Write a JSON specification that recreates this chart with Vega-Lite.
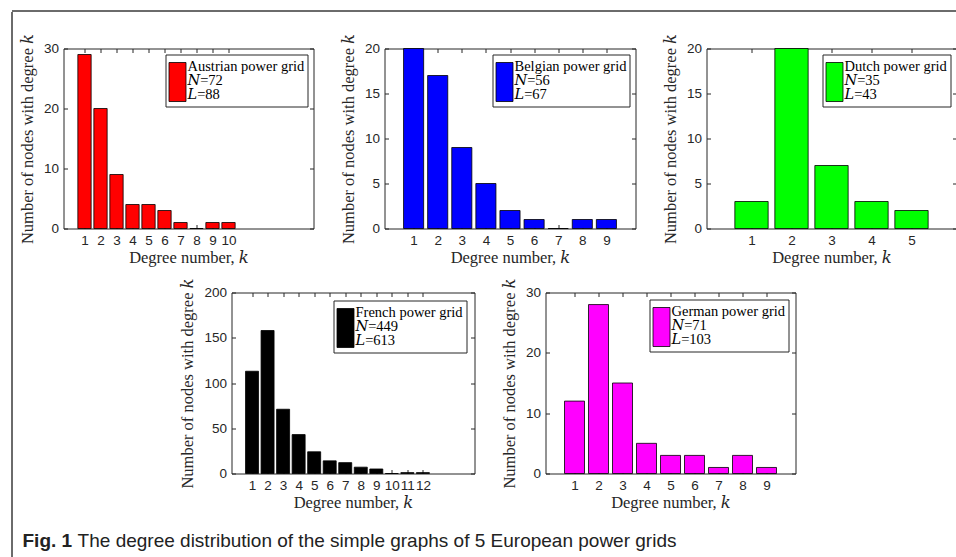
{
  "$schema": "https://vega.github.io/schema/vega-lite/v6.json",
  "background": "white",
  "padding": {"left": 10.5, "top": 9.5, "right": 0, "bottom": 0},
  "bounds": "flush",
  "spacing": 0,
  "resolve": {"scale": {"color": "independent"}, "legend": {"color": "independent"}},
  "datasets": {
    "austria": [
      {"k": 1, "n": 29, "grid": "Austrian power grid"},
      {"k": 2, "n": 20, "grid": "Austrian power grid"},
      {"k": 3, "n": 9, "grid": "Austrian power grid"},
      {"k": 4, "n": 4, "grid": "Austrian power grid"},
      {"k": 5, "n": 4, "grid": "Austrian power grid"},
      {"k": 6, "n": 3, "grid": "Austrian power grid"},
      {"k": 7, "n": 1, "grid": "Austrian power grid"},
      {"k": 8, "n": 0, "grid": "Austrian power grid"},
      {"k": 9, "n": 1, "grid": "Austrian power grid"},
      {"k": 10, "n": 1, "grid": "Austrian power grid"}
    ],
    "belgium": [
      {"k": 1, "n": 20, "grid": "Belgian power grid"},
      {"k": 2, "n": 17, "grid": "Belgian power grid"},
      {"k": 3, "n": 9, "grid": "Belgian power grid"},
      {"k": 4, "n": 5, "grid": "Belgian power grid"},
      {"k": 5, "n": 2, "grid": "Belgian power grid"},
      {"k": 6, "n": 1, "grid": "Belgian power grid"},
      {"k": 7, "n": 0, "grid": "Belgian power grid"},
      {"k": 8, "n": 1, "grid": "Belgian power grid"},
      {"k": 9, "n": 1, "grid": "Belgian power grid"}
    ],
    "dutch": [
      {"k": 1, "n": 3, "grid": "Dutch power grid"},
      {"k": 2, "n": 20, "grid": "Dutch power grid"},
      {"k": 3, "n": 7, "grid": "Dutch power grid"},
      {"k": 4, "n": 3, "grid": "Dutch power grid"},
      {"k": 5, "n": 2, "grid": "Dutch power grid"}
    ],
    "french": [
      {"k": 1, "n": 113, "grid": "French power grid"},
      {"k": 2, "n": 158, "grid": "French power grid"},
      {"k": 3, "n": 71, "grid": "French power grid"},
      {"k": 4, "n": 43, "grid": "French power grid"},
      {"k": 5, "n": 24, "grid": "French power grid"},
      {"k": 6, "n": 14, "grid": "French power grid"},
      {"k": 7, "n": 12, "grid": "French power grid"},
      {"k": 8, "n": 7, "grid": "French power grid"},
      {"k": 9, "n": 5, "grid": "French power grid"},
      {"k": 10, "n": 0, "grid": "French power grid"},
      {"k": 11, "n": 1, "grid": "French power grid"},
      {"k": 12, "n": 1, "grid": "French power grid"}
    ],
    "german": [
      {"k": 1, "n": 12, "grid": "German power grid"},
      {"k": 2, "n": 28, "grid": "German power grid"},
      {"k": 3, "n": 15, "grid": "German power grid"},
      {"k": 4, "n": 5, "grid": "German power grid"},
      {"k": 5, "n": 3, "grid": "German power grid"},
      {"k": 6, "n": 3, "grid": "German power grid"},
      {"k": 7, "n": 1, "grid": "German power grid"},
      {"k": 8, "n": 3, "grid": "German power grid"},
      {"k": 9, "n": 1, "grid": "German power grid"}
    ]
  },
  "vconcat": [
    {"width": 945, "height": 0.01, "data": {"values": []}, "mark": "point", "view": {"stroke": "#3a3a3a", "strokeWidth": 1, "fill": null}},
    {
      "bounds": "flush",
      "spacing": 51,
      "resolve": {"scale": {"color": "independent"}, "legend": {"color": "independent"}},
      "hconcat": [
        {
          "width": 0.01, "height": 546,
          "data": {"values": []}, "mark": "point",
          "view": {"stroke": "#3a3a3a", "strokeWidth": 1, "fill": null},
          "title": {
            "text": "Fig. 1",
            "subtitle": "\u200b\u2003\u2003\u2002\u2009\u2009The degree distribution of the simple graphs of 5 European power grids",
            "orient": "bottom",
            "anchor": "start",
            "offset": -26,
            "dx": 11,
            "font": "Liberation Sans",
            "fontSize": 19,
            "fontWeight": "bold",
            "color": "#222222",
            "subtitleFont": "Liberation Sans",
            "subtitleFontSize": 19,
            "subtitleColor": "#222222",
            "subtitlePadding": -19
          }
        },
        {
          "bounds": "flush",
          "spacing": 36,
          "resolve": {"scale": {"color": "independent"}, "legend": {"color": "independent"}},
          "vconcat": [
            {"width": 1, "height": 1, "data": {"values": []}, "mark": "point", "view": {"stroke": null}},
            {
              "bounds": "flush",
              "spacing": 244,
              "resolve": {"scale": {"color": "independent"}, "legend": {"color": "independent"}},
              "vconcat": [
                {
                  "bounds": "flush",
                  "spacing": 71,
                  "resolve": {"scale": {"color": "independent"}, "legend": {"color": "independent"}},
                  "hconcat": [
                    {
                      "width": 250, "height": 180,
                      "data": {"name": "austria"},
                      "resolve": {"axis": {"x": "independent", "y": "independent"}},
                      "layer": [
                        {
                          "mark": {"type": "bar", "width": 13.3, "stroke": "#000000", "strokeWidth": 0.8},
                          "encoding": {
                            "x": {"field": "k", "type": "quantitative", "scale": {"domain": [0, 15], "nice": false, "zero": false},
                                  "axis": {"values": [1,2,3,4,5,6,7,8,9,10], "title": "Degree number, \ud835\udc58"}},
                            "y": {"field": "n", "type": "quantitative", "scale": {"domain": [0, 30], "nice": false},
                                  "axis": {"values": [0,10,20,30], "title": "Number of nodes with degree \ud835\udc58"}},
                            "color": {"field": "grid", "type": "nominal", "scale": {"range": ["#ff0000"]},
                                      "legend": {"title": null, "orient": "top-right", "offset": 6,
                                                 "labelExpr": "['Austrian power grid', '\ud835\udc41=72', '\ud835\udc3f=88']",
                                                 "encode": {"labels": {"update": {"lineHeight": {"value": 14}}}}}}
                          }
                        },
                        {
                          "mark": {"type": "bar", "opacity": 0},
                          "encoding": {
                            "x": {"field": "k", "type": "quantitative", "scale": {"domain": [0, 15], "nice": false, "zero": false},
                                  "axis": {"orient": "top", "values": [1,2,3,4,5,6,7,8,9,10], "labels": false, "title": null}},
                            "y": {"field": "n", "type": "quantitative", "scale": {"domain": [0, 30], "nice": false},
                                  "axis": {"orient": "right", "values": [0,10,20,30], "labels": false, "title": null}}
                          }
                        }
                      ]
                    },
                    {
                      "width": 251, "height": 180,
                      "data": {"name": "belgium"},
                      "resolve": {"axis": {"x": "independent", "y": "independent"}},
                      "layer": [
                        {
                          "mark": {"type": "bar", "width": 20.1, "stroke": "#000000", "strokeWidth": 0.8},
                          "encoding": {
                            "x": {"field": "k", "type": "quantitative", "scale": {"domain": [0, 10], "nice": false, "zero": false},
                                  "axis": {"values": [1,2,3,4,5,6,7,8,9], "title": "Degree number, \ud835\udc58"}},
                            "y": {"field": "n", "type": "quantitative", "scale": {"domain": [0, 20], "nice": false},
                                  "axis": {"values": [0,5,10,15,20], "title": "Number of nodes with degree \ud835\udc58"}},
                            "color": {"field": "grid", "type": "nominal", "scale": {"range": ["#0000ff"]},
                                      "legend": {"title": null, "orient": "top-right", "offset": 6,
                                                 "labelExpr": "['Belgian power grid', '\ud835\udc41=56', '\ud835\udc3f=67']",
                                                 "encode": {"labels": {"update": {"lineHeight": {"value": 14}}}}}}
                          }
                        },
                        {
                          "mark": {"type": "bar", "opacity": 0},
                          "encoding": {
                            "x": {"field": "k", "type": "quantitative", "scale": {"domain": [0, 10], "nice": false, "zero": false},
                                  "axis": {"orient": "top", "values": [1,2,3,4,5,6,7,8,9], "labels": false, "title": null}},
                            "y": {"field": "n", "type": "quantitative", "scale": {"domain": [0, 20], "nice": false},
                                  "axis": {"orient": "right", "values": [0,5,10,15,20], "labels": false, "title": null}}
                          }
                        }
                      ]
                    },
                    {
                      "width": 250, "height": 180,
                      "data": {"name": "dutch"},
                      "resolve": {"axis": {"x": "independent", "y": "independent"}},
                      "layer": [
                        {
                          "mark": {"type": "bar", "width": 33.3, "stroke": "#000000", "strokeWidth": 0.8},
                          "encoding": {
                            "x": {"field": "k", "type": "quantitative", "scale": {"domain": [0, 6], "nice": false, "zero": false},
                                  "axis": {"values": [1,2,3,4,5], "title": "Degree number, \ud835\udc58"}},
                            "y": {"field": "n", "type": "quantitative", "scale": {"domain": [0, 20], "nice": false},
                                  "axis": {"values": [0,5,10,15,20], "title": "Number of nodes with degree \ud835\udc58"}},
                            "color": {"field": "grid", "type": "nominal", "scale": {"range": ["#00ff00"]},
                                      "legend": {"title": null, "orient": "top-right", "offset": 6,
                                                 "labelExpr": "['Dutch power grid', '\ud835\udc41=35', '\ud835\udc3f=43']",
                                                 "encode": {"labels": {"update": {"lineHeight": {"value": 14}}}}}}
                          }
                        },
                        {
                          "mark": {"type": "bar", "opacity": 0},
                          "encoding": {
                            "x": {"field": "k", "type": "quantitative", "scale": {"domain": [0, 6], "nice": false, "zero": false},
                                  "axis": {"orient": "top", "values": [1,2,3,4,5], "labels": false, "title": null}},
                            "y": {"field": "n", "type": "quantitative", "scale": {"domain": [0, 20], "nice": false},
                                  "axis": {"orient": "right", "values": [0,5,10,15,20], "labels": false, "title": null}}
                          }
                        }
                      ]
                    }
                  ]
                },
                {
                  "bounds": "flush",
                  "spacing": 71,
                  "resolve": {"scale": {"color": "independent"}, "legend": {"color": "independent"}},
                  "hconcat": [
                    {"width": 97, "height": 1, "data": {"values": []}, "mark": "point", "view": {"stroke": null}},
                    {
                      "width": 243, "height": 181,
                      "data": {"name": "french"},
                      "resolve": {"axis": {"x": "independent", "y": "independent"}},
                      "layer": [
                        {
                          "mark": {"type": "bar", "width": 13, "stroke": "#000000", "strokeWidth": 0.8},
                          "encoding": {
                            "x": {"field": "k", "type": "quantitative", "scale": {"domain": [0, 15], "nice": false, "zero": false},
                                  "axis": {"values": [1,2,3,4,5,6,7,8,9,10,11,12], "title": "Degree number, \ud835\udc58"}},
                            "y": {"field": "n", "type": "quantitative", "scale": {"domain": [0, 200], "nice": false},
                                  "axis": {"values": [0,50,100,150,200], "title": "Number of nodes with degree \ud835\udc58"}},
                            "color": {"field": "grid", "type": "nominal", "scale": {"range": ["#000000"]},
                                      "legend": {"title": null, "orient": "top-right", "offset": 8,
                                                 "labelExpr": "['French power grid', '\ud835\udc41=449', '\ud835\udc3f=613']",
                                                 "encode": {"labels": {"update": {"lineHeight": {"value": 14}}}}}}
                          }
                        },
                        {
                          "mark": {"type": "bar", "opacity": 0},
                          "encoding": {
                            "x": {"field": "k", "type": "quantitative", "scale": {"domain": [0, 15], "nice": false, "zero": false},
                                  "axis": {"orient": "top", "values": [1,2,3,4,5,6,7,8,9,10,11,12], "labels": false, "title": null}},
                            "y": {"field": "n", "type": "quantitative", "scale": {"domain": [0, 200], "nice": false},
                                  "axis": {"orient": "right", "values": [0,50,100,150,200], "labels": false, "title": null}}
                          }
                        }
                      ]
                    },
                    {
                      "width": 250, "height": 181,
                      "data": {"name": "german"},
                      "resolve": {"axis": {"x": "independent", "y": "independent"}},
                      "layer": [
                        {
                          "mark": {"type": "bar", "width": 20, "stroke": "#000000", "strokeWidth": 0.8},
                          "encoding": {
                            "x": {"field": "k", "type": "quantitative", "scale": {"domain": [0, 10], "nice": false, "zero": false},
                                  "axis": {"values": [1,2,3,4,5,6,7,8,9], "title": "Degree number, \ud835\udc58"}},
                            "y": {"field": "n", "type": "quantitative", "scale": {"domain": [0, 30], "nice": false},
                                  "axis": {"values": [0,10,20,30], "title": "Number of nodes with degree \ud835\udc58"}},
                            "color": {"field": "grid", "type": "nominal", "scale": {"range": ["#ff00ff"]},
                                      "legend": {"title": null, "orient": "top-right", "offset": 7,
                                                 "labelExpr": "['German power grid', '\ud835\udc41=71', '\ud835\udc3f=103']",
                                                 "encode": {"labels": {"update": {"lineHeight": {"value": 14}}}}}}
                          }
                        },
                        {
                          "mark": {"type": "bar", "opacity": 0},
                          "encoding": {
                            "x": {"field": "k", "type": "quantitative", "scale": {"domain": [0, 10], "nice": false, "zero": false},
                                  "axis": {"orient": "top", "values": [1,2,3,4,5,6,7,8,9], "labels": false, "title": null}},
                            "y": {"field": "n", "type": "quantitative", "scale": {"domain": [0, 30], "nice": false},
                                  "axis": {"orient": "right", "values": [0,10,20,30], "labels": false, "title": null}}
                          }
                        }
                      ]
                    }
                  ]
                }
              ]
            }
          ]
        }
      ]
    }
  ],
  "config": {
    "view": {"stroke": "#262626", "strokeWidth": 1},
    "axis": {
      "domain": false,
      "grid": false,
      "ticks": true,
      "tickColor": "#262626",
      "tickSize": -4,
      "tickWidth": 1,
      "labelFont": "Liberation Sans",
      "labelFontSize": 13.5,
      "labelColor": "#262626",
      "labelPadding": 9,
      "titleFont": "Liberation Serif, DejaVu Serif, serif",
      "titleFontSize": 16.5,
      "titleFontWeight": "normal",
      "titleColor": "#262626"
    },
    "axisX": {"labelAngle": 0, "titlePadding": 2, "labelFlush": false, "labelOverlap": false},
    "axisY": {"titlePadding": 8, "labelOverlap": false},
    "legend": {
      "strokeColor": "#262626",
      "fillColor": "#ffffff",
      "padding": 3,
      "labelFont": "Liberation Serif, DejaVu Serif, serif",
      "labelFontSize": 14.5,
      "labelColor": "#000000",
      "labelLimit": 500,
      "labelOffset": 1,
      "symbolType": "M-1,-0.47H1V4.12H-1Z",
      "symbolSize": 289,
      "symbolStrokeColor": "#000000",
      "symbolStrokeWidth": 0.8,
      "symbolOpacity": 1
    }
  }
}
